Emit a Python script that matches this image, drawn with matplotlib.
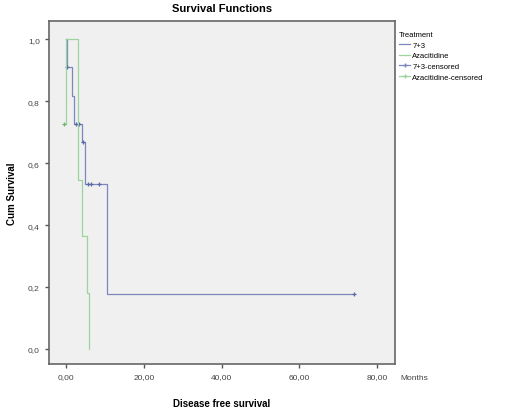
import matplotlib
matplotlib.use('Agg')
import matplotlib.pyplot as plt
from matplotlib.lines import Line2D

plt.rcParams['font.family'] = ['Liberation Sans', 'DejaVu Sans']

# Kaplan-Meier steps
t_73 = [0, 0.3, 1.5, 2.0, 4.0, 4.8, 10.5, 74.0]
s_73 = [1.0, 0.909, 0.818, 0.727, 0.667, 0.533, 0.178, 0.178]
cens_t_73 = [0.3, 2.6, 3.4, 4.3, 5.6, 6.3, 8.6, 74.0]
cens_s_73 = [0.909, 0.727, 0.727, 0.667, 0.533, 0.533, 0.533, 0.178]

t_aza = [0, 3.0, 4.2, 5.3, 6.0]
s_aza = [1.0, 0.545, 0.364, 0.182, 0.0]
cens_t_aza = [-0.6]
cens_s_aza = [0.727]

xticks = [0, 20, 40, 60, 80]
xticklabels = ['0,00', '20,00', '40,00', '60,00', '80,00']
yticks = [0.0, 0.2, 0.4, 0.6, 0.8, 1.0]
yticklabels = ['0,0', '0,2', '0,4', '0,6', '0,8', '1,0']
groups = ['7+3', 'Azacitidine', '7+3-censored', 'Azacitidine-censored']

blue = '#7a88bd'
green = '#9dd39d'

fig = plt.figure(figsize=(5.2, 4.1), dpi=100)
ax = fig.add_axes([0.094, 0.11, 0.666, 0.836])
ax.set_facecolor('#f0f0f0')

ax.step(t_73, s_73, where='post', color=blue, lw=0.9)
ax.plot(cens_t_73, cens_s_73, '+', color='#5a68a8', ms=3.5, mew=0.9)
# green drop at time zero seen on the left edge
ax.plot([0, 0], [1.0, 0.727], color=green, lw=0.9)
ax.step(t_aza, s_aza, where='post', color=green, lw=0.9)
ax.plot(cens_t_aza, cens_s_aza, '+', color='#6ab36a', ms=3.5, mew=0.9)

ax.set_xlim(-4.4, 84.6)
ax.set_ylim(-0.048, 1.058)
ax.set_xticks(xticks)
ax.set_xticklabels(xticklabels)
ax.set_yticks(yticks)
ax.set_yticklabels(yticklabels)
ax.tick_params(labelsize=6, length=3, width=1, color='#555555', labelcolor='#444444')
for sp in ax.spines.values():
    sp.set_color('#666666')
    sp.set_linewidth(1.2)

ax.set_title('Survival Functions', fontsize=8, fontweight='bold', pad=7)
ax.set_xlabel('Disease free survival', fontsize=7, fontweight='bold', labelpad=13)
ax.set_ylabel('Cum Survival', fontsize=7, fontweight='bold', labelpad=8)
ax.text(1.015, -0.041, 'Months', transform=ax.transAxes, fontsize=6, color='#444444',
        va='center', ha='left')

handles = [
    Line2D([0], [0], color=blue, lw=0.9),
    Line2D([0], [0], color=green, lw=0.9),
    Line2D([0], [0], color=blue, lw=0.9, marker='+', ms=3.5),
    Line2D([0], [0], color=green, lw=0.9, marker='+', ms=3.5),
]
leg = fig.legend(handles, groups, title='Treatment', loc='upper left',
                 bbox_to_anchor=(0.762, 0.93), fontsize=5.5, title_fontsize=5.5,
                 frameon=False, handlelength=1.4, handletextpad=0.3,
                 labelspacing=0.45, borderaxespad=0)
leg._legend_box.align = 'left'

fig.savefig('out.png', dpi=100)
